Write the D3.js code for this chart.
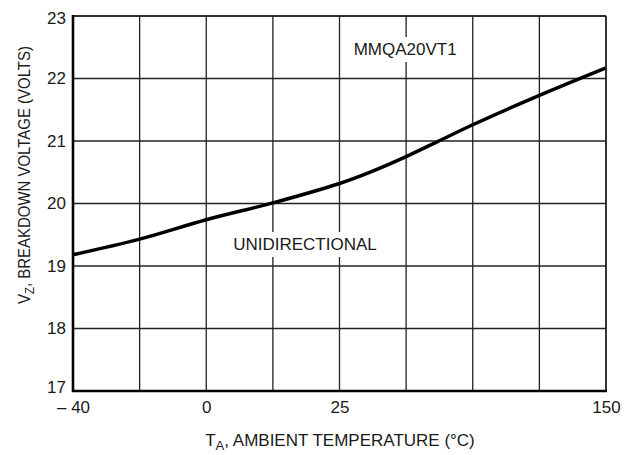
<!DOCTYPE html>
<html>
<head>
<meta charset="utf-8">
<script src="https://cdn.jsdelivr.net/npm/d3@7"></script>
<style>
  body { margin: 0; background: #fff; }
  text { font-family: "Liberation Sans", Arial, Helvetica, sans-serif; fill: #1a1a1a; }
</style>
</head>
<body>
<div id="chart"></div>
<script>
// grid positions along the temperature axis (uneven spacing on the original sheet)
var gridTemps = [-40, -20, 0, 12.5, 25, 56.25, 87.5, 118.75, 150];
var tempTicks = [-40, 0, 25, 150];
var tempLabels = ['\u2013 40', '0', '25', '150'];
var voltTicks = [17, 18, 19, 20, 21, 22, 23];

// curve
var temps = [-40, -20, 0, 12.5, 25, 40, 56.25, 71, 87.5, 118.75, 150];
var volts = [19.18, 19.43, 19.74, 20.01, 20.32, 20.51, 20.75, 20.99, 21.26, 21.73, 22.17];

var W = 633, H = 455;
var m = { top: 16, right: 27, bottom: 64, left: 73 };
var cw = W - m.left - m.right;
var ch = H - m.top - m.bottom;
var fs = 17;

var svg = d3.select('#chart').append('svg')
    .attr('width', W).attr('height', H);

var g = svg.append('g').attr('transform', 'translate(' + m.left + ',' + m.top + ')');

var step = cw / 8;
var x = d3.scaleLinear()
    .domain([-40, 0, 25, 150])
    .range([0, 2 * step, 4 * step, 8 * step]);
var y = d3.scaleLinear().domain([17, 23]).range([ch, 0]);

// grid
g.append('g').selectAll('line.v')
    .data(gridTemps).enter().append('line')
    .attr('x1', d => x(d)).attr('x2', d => x(d))
    .attr('y1', 0).attr('y2', ch)
    .style('stroke', '#222').style('stroke-width', 1.3);

g.append('g').selectAll('line.h')
    .data(voltTicks).enter().append('line')
    .attr('x1', 0).attr('x2', cw)
    .attr('y1', d => y(d)).attr('y2', d => y(d))
    .style('stroke', '#222').style('stroke-width', 1.3);

// labels inside plot, with white backing that breaks the grid
function label(txt, tx, ty) {
    var t = g.append('text')
        .attr('x', tx).attr('y', ty)
        .attr('text-anchor', 'middle')
        .style('font-size', fs + 'px')
        .text(txt);
    var b = t.node().getBBox();
    g.insert('rect', 'text')
        .attr('x', b.x - 3).attr('y', b.y - 3)
        .attr('width', b.width + 6).attr('height', b.height + 6)
        .style('fill', '#fff');
}
label('MMQA20VT1', x(56.25) - 1, 55 - m.top);
label('UNIDIRECTIONAL', 305 - m.left, 250 - m.top);

// curve
var pts = temps.map((t, i) => [x(t), y(volts[i])]);
g.append('path')
    .datum(pts)
    .attr('d', d3.line().curve(d3.curveCatmullRom.alpha(0.5)))
    .style('fill', 'none')
    .style('stroke', '#000')
    .style('stroke-width', 3.5);

// frame
g.append('line').attr('x1', 0).attr('x2', cw).attr('y1', 0).attr('y2', 0)
    .style('stroke', '#222').style('stroke-width', 1.5);
g.append('line').attr('x1', cw).attr('x2', cw).attr('y1', 0).attr('y2', ch)
    .style('stroke', '#222').style('stroke-width', 1.5);
g.append('line').attr('x1', 0).attr('x2', 0).attr('y1', -1).attr('y2', ch + 1)
    .style('stroke', '#000').style('stroke-width', 2.6);
g.append('line').attr('x1', -1).attr('x2', cw + 1).attr('y1', ch).attr('y2', ch)
    .style('stroke', '#000').style('stroke-width', 2.6);

// axes (text only, lines drawn above)
var xAxis = d3.axisBottom(x).tickValues(tempTicks).tickSize(0).tickPadding(10)
    .tickFormat((d, i) => tempLabels[i]);
var gx = g.append('g').attr('transform', 'translate(0,' + ch + ')').call(xAxis);
gx.select('.domain').remove();
gx.selectAll('text').style('font-size', fs + 'px').style('font-family', '"Liberation Sans", Arial, sans-serif').attr('fill', '#1a1a1a');

var yAxis = d3.axisLeft(y).tickValues(voltTicks).tickSize(0).tickPadding(7)
    .tickFormat(d3.format('d'));
var gy = g.append('g').call(yAxis);
gy.select('.domain').remove();
gy.selectAll('text').style('font-size', fs + 'px').style('font-family', '"Liberation Sans", Arial, sans-serif').attr('fill', '#1a1a1a');
// end labels sit a little inside the frame, as on the sheet
gy.selectAll('.tick').filter(d => d === 17).select('text').attr('dy', '0.1em');
gy.selectAll('.tick').filter(d => d === 23).select('text').attr('dy', '0.45em');

// axis titles
var xt = svg.append('text')
    .attr('x', 340).attr('y', 446)
    .attr('text-anchor', 'middle')
    .style('font-size', fs + 'px');
xt.append('tspan').text('T');
xt.append('tspan').style('font-size', '13px').attr('dy', 4).text('A');
xt.append('tspan').attr('dy', -4).text(', AMBIENT TEMPERATURE (\u00B0C)');

var yt = svg.append('text')
    .attr('transform', 'translate(30,175) rotate(-90) scale(0.88,1)')
    .attr('text-anchor', 'middle')
    .style('font-size', fs + 'px');
yt.append('tspan').text('V');
yt.append('tspan').style('font-size', '13px').attr('dy', 4).text('Z');
yt.append('tspan').attr('dy', -4).text(', BREAKDOWN VOLTAGE (VOLTS)');
</script>
</body>
</html>
